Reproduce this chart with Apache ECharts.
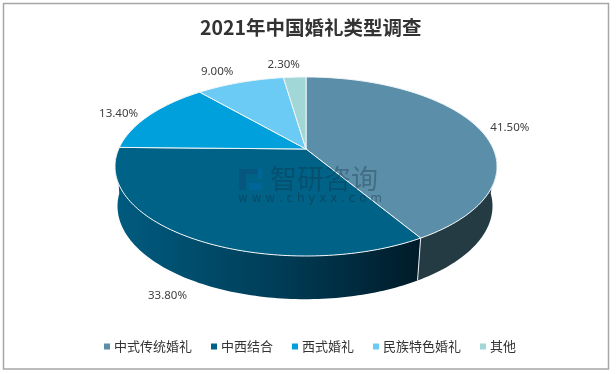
<!DOCTYPE html>
<html>
<head>
<meta charset="utf-8">
<style>html,body{margin:0;padding:0;background:#fff}#c{width:616px;height:374px}</style>
<script src="https://cdn.jsdelivr.net/npm/echarts@6/dist/echarts.min.js"></script>
</head>
<body>
<div id="c"></div>
<script>
const categories = ['中式传统婚礼', '中西结合', '西式婚礼', '民族特色婚礼', '其他'];
const values = [41.5, 33.8, 13.4, 9.0, 2.3];
const chartTitle = '2021年中国婚礼类型调查';

const topColors = ['#5b8ea8', '#006287', '#00a0dc', '#6bcbf4', '#a1d7d6'];
const labelOffsets = [[32, 0], [-25, 57], [-31, -1], [-23, -11], [-11, -12]];

// Tilted-disc projection (perspective homography of the unit circle)
const K = 0.1955;
const CX = 306;
const topDisc = { cx: CX, y0: 149, rx: 191, ry: 89.5 };
const botDisc = { cx: CX - 1, y0: 188, rx: 187.5, ry: 93 };
function project(d, theta) {
  const u = Math.sin(theta), v = -Math.cos(theta), w = 1 - K * v;
  const a = d.rx * Math.sqrt(1 - K * K), b = d.ry * (1 - K * K);
  return [d.cx + a * u / w, d.y0 + b * v / w];
}
const total = values.reduce((s, x) => s + x, 0);
function sideFill(i) {
  if (i === 1) {
    return { type: 'linear', x: 118, y: 0, x2: 417, y2: 0, global: true, colorStops: [
      { offset: 0, color: '#005b7f' }, { offset: 0.5, color: '#003f5a' }, { offset: 1, color: '#001c2a' }
    ] };
  }
  return '#253b44';
}

function renderSector(i) {
  return function (params, api) {
    const val = api.value(0);
    let before = 0;
    for (let j = 0; j < i; j++) before += values[j];
    const t0 = before / total * 2 * Math.PI;
    const t1 = (before + val) / total * 2 * Math.PI;
    const steps = Math.max(6, Math.ceil((t1 - t0) / 0.02));
    const topArc = [], sideTop = [], sideBot = [];
    for (let s = 0; s <= steps; s++) {
      const t = t0 + (t1 - t0) * s / steps;
      topArc.push(project(topDisc, t));
      if (-Math.cos(t) > 0.05) {
        sideTop.push(project(topDisc, t));
        sideBot.push(project(botDisc, t));
      }
    }
    const children = [];
    if (sideTop.length > 1) {
      children.push({ type: 'polygon', z2: 1,
        shape: { points: sideTop.concat(sideBot.slice().reverse()) },
        style: { fill: sideFill(i), stroke: 'none' } });
    }
    if (-Math.cos(t0) > 0.05) {
      children.push({ type: 'line', z2: 2,
        shape: { x1: project(topDisc, t0)[0], y1: project(topDisc, t0)[1], x2: project(botDisc, t0)[0], y2: project(botDisc, t0)[1] },
        style: { stroke: '#e8eef1', lineWidth: 1 } });
    }
    children.push({ type: 'polygon', z2: 5,
      shape: { points: [[CX, topDisc.y0]].concat(topArc) },
      style: { fill: topColors[i], stroke: '#f2f7f9', lineWidth: 1, lineJoin: 'round' } });
    const mid = project(topDisc, (t0 + t1) / 2);
    children.push({ type: 'text', z2: 6,
      style: { x: mid[0] + labelOffsets[i][0], y: mid[1] + labelOffsets[i][1],
        text: val.toFixed(2) + '%', fill: '#404040', font: '11.5px "Noto Sans"',
        textAlign: 'center', textVerticalAlign: 'middle' } });
    return { type: 'group', children: children };
  };
}

const wmFill = 'rgba(15,45,65,0.33)';
const chart = echarts.init(document.getElementById('c'), null, { renderer: 'canvas' });
chart.setOption({
  animation: false,
  backgroundColor: '#fff',
  title: {
    text: chartTitle, left: 195, top: 13,
    textStyle: { fontFamily: '"Noto Sans CJK SC"', fontSize: 19.5, fontWeight: 'bold', color: '#333' }
  },
  legend: {
    left: 104, top: 340, padding: 0, icon: 'rect', itemWidth: 6, itemHeight: 6, itemGap: 19,
    selectedMode: false, data: categories,
    textStyle: { fontFamily: '"Noto Sans CJK SC"', fontSize: 13, color: '#333', padding: [0, 0, 0, -1] }
  },
  series: categories.map((name, i) => ({
    type: 'custom', name: name, coordinateSystem: 'none', silent: true,
    itemStyle: { color: topColors[i] },
    data: [[values[i]]],
    renderItem: renderSector(i)
  })),
  graphic: [
    { type: 'rect', z: 100, silent: true, shape: { x: 3.5, y: 3.5, width: 605, height: 365.5 },
      style: { fill: 'none', stroke: '#a6a6a6', lineWidth: 1.5 } },
    { type: 'rect', z: 100, silent: true, shape: { x: 239, y: 169, width: 7, height: 21 }, style: { fill: 'rgba(20,60,110,0.3)' } },
    { type: 'rect', z: 100, silent: true, shape: { x: 246, y: 169, width: 12, height: 5 }, style: { fill: 'rgba(20,60,110,0.3)' } },
    { type: 'rect', z: 100, silent: true, shape: { x: 258, y: 169, width: 4, height: 10 }, style: { fill: 'rgba(0,110,180,0.35)' } },
    { type: 'rect', z: 100, silent: true, shape: { x: 249, y: 183, width: 13, height: 7 }, style: { fill: 'rgba(0,110,180,0.35)' } },
    { type: 'text', z: 100, silent: true, style: { x: 270, y: 179, text: '智研咨询', fill: wmFill,
      font: '27px "Noto Sans CJK SC"', textVerticalAlign: 'middle' } },
    { type: 'text', z: 100, silent: true, style: { x: 238, y: 199, text: 'w w w . c h y x x . c o m', fill: 'rgba(15,45,65,0.45)',
      font: '12px "DejaVu Sans"', textVerticalAlign: 'middle' } }
  ]
});
</script>
</body>
</html>
